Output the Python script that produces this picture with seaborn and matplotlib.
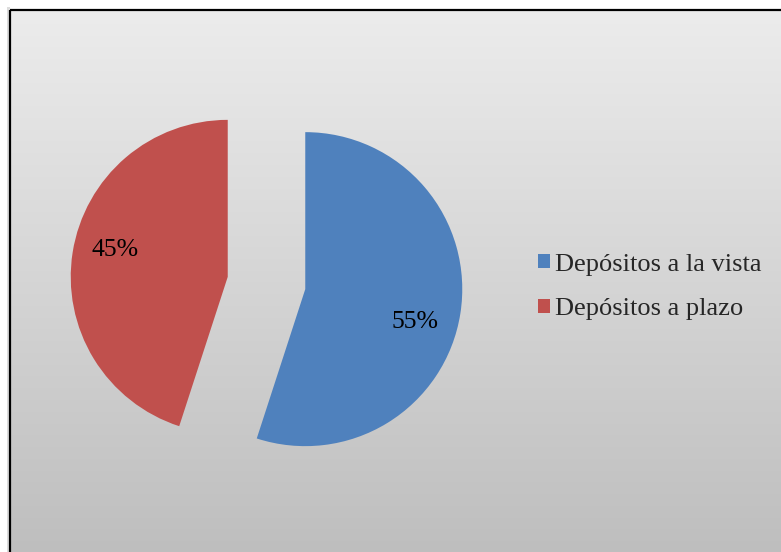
import numpy as np
import matplotlib
matplotlib.use("Agg")
import matplotlib.pyplot as plt
import seaborn as sns
from matplotlib.patches import Rectangle

# Deposit composition
categories = ["Depósitos a la vista", "Depósitos a plazo"]
shares = [55, 45]
colors = ["#4F81BD", "#C0504D"]

sns.set_theme(style="white")
plt.rcParams["font.family"] = ["Liberation Serif", "DejaVu Serif"]

W, H = 781, 552
fig = plt.figure(figsize=(W / 100, H / 100), dpi=100)
fig.patch.set_facecolor("white")

# Chart area: vertical grey gradient with a dark frame on the top/left
bg = fig.add_axes([0, 0, 1, 1])
bg.set_xlim(0, W)
bg.set_ylim(H, 0)
bg.axis("off")
grad = np.linspace(236, 190, 256)[:, None] / 255.0
grad = np.repeat(grad[:, :, None], 3, axis=2)
bg.imshow(grad, extent=(11, W + 2, H + 2, 11), aspect="auto", zorder=1)
bg.add_patch(Rectangle((7, 7), 3, H, facecolor="#dcdcdc", edgecolor="none", zorder=0))
bg.add_patch(Rectangle((10, 10), W + 10, H + 10, facecolor="none",
                       edgecolor="black", linewidth=1.6, zorder=2))

# Pie drawn in pixel-like coordinates (explode is in the same units)
ax = fig.add_axes([0, 0, 1, 1])
ax.patch.set_alpha(0)
cx, cy, r = 266.5, H - 283, 157
gap = 0.25 * r
wedges, texts, autotexts = ax.pie(
    shares, colors=colors, startangle=90, counterclock=False,
    explode=[gap, gap], radius=r, center=(cx, cy),
    autopct="%d%%", pctdistance=0.735,
    textprops=dict(fontsize=18.5, color="black"),
    wedgeprops=dict(linewidth=0),
)
ax.set_xlim(0, W)
ax.set_ylim(0, H)
ax.set_aspect("equal")
ax.axis("off")

# Shift the percentage labels a little clockwise within their wedges
for w, t in zip(wedges, autotexts):
    mid = np.deg2rad((w.theta1 + w.theta2) / 2 - 6)
    wc = w.center
    t.set_position((wc[0] + 0.735 * r * np.cos(mid) - 1.5,
                    wc[1] + 0.735 * r * np.sin(mid) - 3))

leg = ax.legend(
    wedges, categories, loc="center left",
    bbox_to_anchor=(538 / W, 1 - 287 / H), bbox_transform=fig.transFigure,
    frameon=False, fontsize=19, handlelength=0.44, handleheight=0.44,
    handletextpad=0.2, labelspacing=0.85, borderpad=0, borderaxespad=0,
)

fig.savefig("out.png", dpi=100)
